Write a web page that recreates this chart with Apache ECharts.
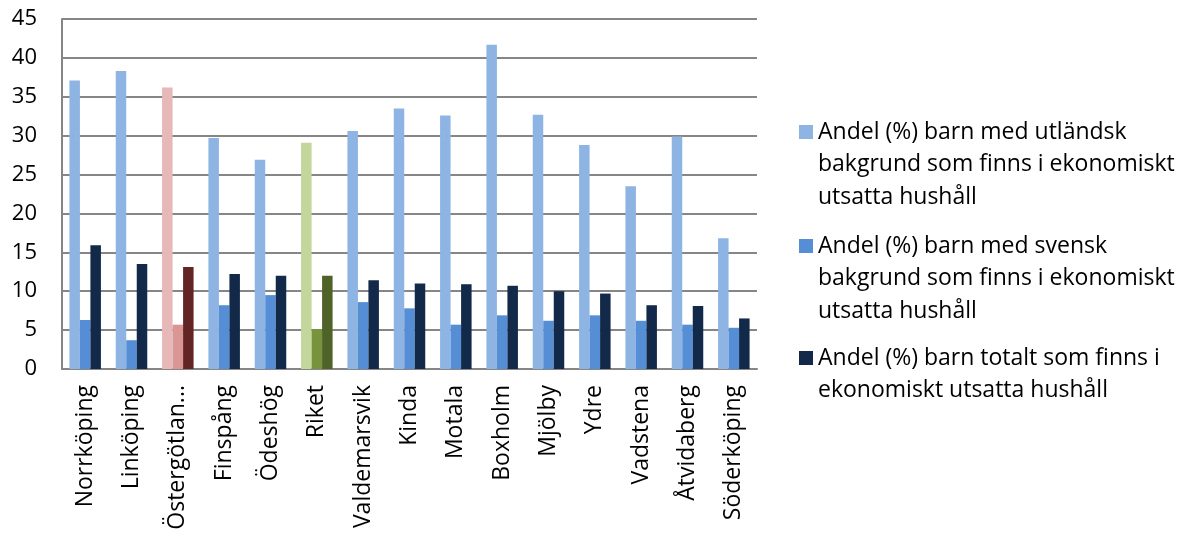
<!DOCTYPE html>
<html><head><meta charset="utf-8">
<script src="https://cdn.jsdelivr.net/npm/echarts@6/dist/echarts.min.js"></script>
<style>html,body{margin:0;padding:0;background:#fff}#c{width:1189px;height:538px}</style>
</head><body><div id="c"></div>
<script>
const categories = ["Norrköping","Linköping","Östergötlands län","Finspång","Ödeshög","Riket","Valdemarsvik","Kinda","Motala","Boxholm","Mjölby","Ydre","Vadstena","Åtvidaberg","Söderköping"];
const utlandsk = [37.1,38.3,36.2,29.7,26.9,29.1,30.6,33.5,32.6,41.7,32.7,28.8,23.5,29.9,16.8];
const svensk = [6.3,3.7,5.7,8.2,9.5,5.1,8.6,7.8,5.7,6.9,6.2,6.9,6.2,5.7,5.3];
const totalt = [15.9,13.5,13.1,12.2,12.0,12.0,11.4,11.0,10.9,10.7,10.0,9.7,8.2,8.1,6.5];
const seriesNames = [
  "Andel (%) barn med utländsk bakgrund som finns i ekonomiskt utsatta hushåll",
  "Andel (%) barn med svensk bakgrund som finns i ekonomiskt utsatta hushåll",
  "Andel (%) barn totalt som finns i ekonomiskt utsatta hushåll"
];
const legendLines = [
  ["Andel (%) barn med utländsk","bakgrund som finns i ekonomiskt","utsatta hushåll"],
  ["Andel (%) barn med svensk","bakgrund som finns i ekonomiskt","utsatta hushåll"],
  ["Andel (%) barn totalt som finns i","ekonomiskt utsatta hushåll"]
];
const yTicks = [0,5,10,15,20,25,30,35,40,45];

const baseColors = ['#8EB4E3','#558ED5','#13294A'];
const special = {
  "Östergötlands län": ['#E6B9B8','#D99694','#632523'],
  "Riket": ['#C3D69B','#77933C','#4F6228']
};
const FONT = '"Open Sans"';
const LH = 32.5;
function mk(vals, si){
  return vals.map((v,i)=>{
    const sp = special[categories[i]];
    return sp ? {value:v, itemStyle:{color:sp[si]}} : v;
  });
}
const legendTops = [132, 246, 358];
const legends = seriesNames.map((n,i)=>{
  const nl = legendLines[i].length;
  const totalLines = 2*nl-1;
  const txt = '\u200b' + '\n'.repeat(nl-1) + legendLines[i].join('\n');
  return {
    data:[n],
    orient:'vertical', left:799, top: legendTops[i] - totalLines*LH/2,
    padding:0, itemWidth:14, itemHeight:14, itemGap:8,
    icon:'rect',
    formatter: ()=>txt,
    textStyle:{fontFamily:FONT, fontSize:23, color:'#000', lineHeight:LH},
    selectedMode:false
  };
});
const chart = echarts.init(document.getElementById('c'));
chart.setOption({
  animation:false,
  grid:{left:62, right:432, top:19, bottom:169, containLabel:false, outerBoundsMode:'none'},
  legend: legends,
  xAxis:{type:'category', data:categories,
    axisLine:{lineStyle:{color:'#868686', width:2}},
    axisTick:{show:false},
    axisLabel:{rotate:90, interval:0, margin:16, fontFamily:FONT, fontSize:23, color:'#000',
      width:152, overflow:'truncate', ellipsis:'...'}
  },
  yAxis:{type:'value', min:yTicks[0], max:yTicks[yTicks.length-1], interval:5,
    axisLine:{show:true, lineStyle:{color:'#868686', width:2}},
    axisTick:{show:false},
    splitLine:{lineStyle:{color:'#868686', width:2}},
    axisLabel:{margin:25, fontFamily:FONT, fontSize:22, color:'#000'}
  },
  series:[
    {name:seriesNames[0], type:'bar', data:mk(utlandsk,0), itemStyle:{color:baseColors[0]}, barGap:'0%', barCategoryGap:'32%'},
    {name:seriesNames[1], type:'bar', data:mk(svensk,1), itemStyle:{color:baseColors[1]}, barGap:'0%', barCategoryGap:'32%'},
    {name:seriesNames[2], type:'bar', data:mk(totalt,2), itemStyle:{color:baseColors[2]}, barGap:'0%', barCategoryGap:'32%'}
  ]
});
</script></body></html>
